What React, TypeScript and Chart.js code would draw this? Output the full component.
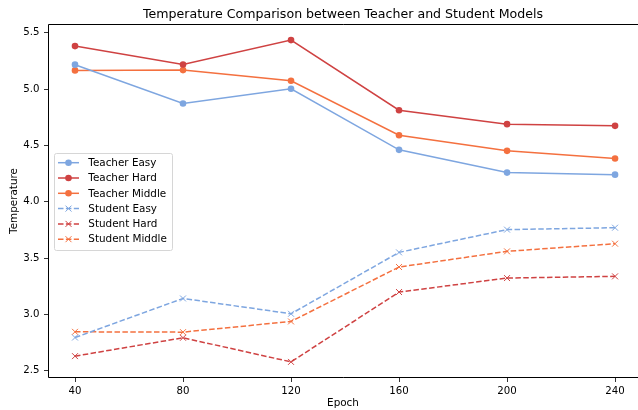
import React, { useEffect, useRef } from "react";
import { Chart, registerables } from "chart.js";

Chart.register(...registerables);

const epochs = [40, 80, 120, 160, 200, 240];
const teacherEasy = [5.216, 4.872, 5.002, 4.46, 4.258, 4.24];
const teacherHard = [5.381, 5.218, 5.434, 4.812, 4.688, 4.673];
const teacherMiddle = [5.165, 5.168, 5.073, 4.59, 4.451, 4.383];
const studentEasy = [2.794, 3.141, 3.005, 3.55, 3.752, 3.769];
const studentHard = [2.629, 2.792, 2.578, 3.198, 3.322, 3.337];
const studentMiddle = [2.845, 2.842, 2.937, 3.42, 3.559, 3.627];
const yTicks = [2.5, 3.0, 3.5, 4.0, 4.5, 5.0, 5.5];

const C_EASY = "#7EA6E0";
const C_HARD = "#CF4242";
const C_MID = "#F4703F";
const FONT = "'DejaVu Sans', sans-serif";

const toXY = (vals: number[]) => vals.map((v, i) => ({ x: epochs[i], y: v }));

const seriesDefs = [
  { label: "Teacher Easy", data: teacherEasy, color: C_EASY, student: false },
  { label: "Teacher Hard", data: teacherHard, color: C_HARD, student: false },
  { label: "Teacher Middle", data: teacherMiddle, color: C_MID, student: false },
  { label: "Student Easy", data: studentEasy, color: C_EASY, student: true },
  { label: "Student Hard", data: studentHard, color: C_HARD, student: true },
  { label: "Student Middle", data: studentMiddle, color: C_MID, student: true },
];

const DASH = [5.5, 2.4];

const framePlugin = {
  id: "frame",
  afterDatasetsDraw(chart: any) {
    const { ctx, chartArea } = chart;
    const l = Math.round(chartArea.left) + 0.5;
    const t = Math.round(chartArea.top) + 0.5;
    const b = Math.round(chartArea.bottom) - 0.5;
    const r = chart.width + 2;
    ctx.save();
    ctx.strokeStyle = "#000";
    ctx.lineWidth = 1;
    ctx.beginPath();
    ctx.moveTo(r, t);
    ctx.lineTo(l, t);
    ctx.lineTo(l, b);
    ctx.lineTo(r, b);
    ctx.stroke();
    ctx.restore();
  },
};

const legendPlugin = {
  id: "innerLegend",
  afterDraw(chart: any) {
    const { ctx } = chart;
    const x0 = 54;
    const y0 = 153;
    const w = 118;
    const h = 97;
    ctx.save();
    ctx.fillStyle = "rgba(255,255,255,0.8)";
    ctx.strokeStyle = "#d6d6d6";
    ctx.lineWidth = 1;
    ctx.beginPath();
    const r = 2;
    const X = x0 + 0.5;
    const Y = y0 + 0.5;
    ctx.moveTo(X + r, Y);
    ctx.arcTo(X + w, Y, X + w, Y + h, r);
    ctx.arcTo(X + w, Y + h, X, Y + h, r);
    ctx.arcTo(X, Y + h, X, Y, r);
    ctx.arcTo(X, Y, X + w, Y, r);
    ctx.closePath();
    ctx.fill();
    ctx.stroke();
    ctx.font = "10.4px " + FONT;
    ctx.textBaseline = "middle";
    seriesDefs.forEach((s, i) => {
      const cy = 162.7 + i * 15.3;
      const lx = 58;
      ctx.strokeStyle = s.color;
      ctx.lineWidth = 1.5;
      ctx.setLineDash(s.student ? DASH : []);
      ctx.beginPath();
      ctx.moveTo(lx, cy);
      ctx.lineTo(lx + 21, cy);
      ctx.stroke();
      ctx.setLineDash([]);
      const mx = lx + 10.5;
      if (s.student) {
        const d = 3;
        ctx.beginPath();
        ctx.moveTo(mx - d, cy - d);
        ctx.lineTo(mx + d, cy + d);
        ctx.moveTo(mx - d, cy + d);
        ctx.lineTo(mx + d, cy - d);
        ctx.lineWidth = 1;
        ctx.stroke();
      } else {
        ctx.fillStyle = s.color;
        ctx.beginPath();
        ctx.arc(mx, cy, 3.3, 0, Math.PI * 2);
        ctx.fill();
      }
      ctx.fillStyle = "#000";
      ctx.textAlign = "left";
      ctx.fillText(s.label, 88.3, cy + 0.5);
    });
    ctx.restore();
  },
};

export default function App() {
  const ref = useRef<HTMLCanvasElement | null>(null);
  useEffect(() => {
    if (!ref.current) return;
    const chart = new Chart(ref.current, {
      type: "line",
      data: {
        datasets: seriesDefs.map((s) => ({
          label: s.label,
          data: toXY(s.data),
          borderColor: s.color,
          backgroundColor: s.color,
          borderWidth: 1.5,
          borderDash: s.student ? DASH : [],
          pointStyle: s.student ? "crossRot" : "circle",
          pointRadius: s.student ? 4.2 : 3.3,
          pointBorderWidth: s.student ? 1 : 0,
          pointBackgroundColor: s.color,
          pointBorderColor: s.color,
          tension: 0,
          fill: false,
          clip: false,
        })),
      },
      options: {
        animation: false,
        responsive: false,
        maintainAspectRatio: false,
        layout: { autoPadding: false, padding: { left: 0, right: 0, top: 0, bottom: 0 } },
        plugins: {
          legend: { display: false },
          tooltip: { enabled: false },
          title: {
            display: true,
            text: "Temperature Comparison between Teacher and Student Models",
            fullSize: false,
            color: "#000",
            font: { family: FONT, size: 12.6, weight: "normal" },
            padding: { top: 7, bottom: 1.88 },
          },
        },
        scales: {
          x: {
            type: "linear",
            min: 30,
            max: 248.5,
            afterFit: (s: any) => {
              s.height = 32;
              s.paddingLeft = 0;
              s.paddingRight = 0;
            },
            afterBuildTicks: (s: any) => {
              s.ticks = epochs.map((v) => ({ value: v }));
            },
            ticks: {
              color: "#000",
              font: { family: FONT, size: 10.2 },
              padding: 3,
              maxRotation: 0,
              autoSkip: false,
            },
            grid: {
              display: true,
              drawOnChartArea: false,
              drawTicks: true,
              tickLength: 4,
              tickWidth: 0.8,
              tickColor: "#000",
            },
            border: { display: false },
            title: {
              display: true,
              text: "Epoch",
              color: "#000",
              font: { family: FONT, size: 10.4 },
              padding: { top: 0, bottom: 0 },
            },
          },
          y: {
            type: "linear",
            min: 2.435,
            max: 5.577,
            afterFit: (s: any) => {
              s.width = 48;
              s.paddingTop = 0;
              s.paddingBottom = 0;
            },
            afterBuildTicks: (s: any) => {
              s.ticks = yTicks.map((v) => ({ value: v }));
            },
            ticks: {
              color: "#000",
              font: { family: FONT, size: 10.2 },
              padding: 4.5,
              callback: (v: any) => Number(v).toFixed(1),
            },
            grid: {
              display: true,
              drawOnChartArea: false,
              drawTicks: true,
              tickLength: 4,
              tickWidth: 0.8,
              tickColor: "#000",
            },
            border: { display: false },
            title: {
              display: true,
              text: "Temperature",
              color: "#000",
              font: { family: FONT, size: 10.4 },
              padding: { top: 8, bottom: 0 },
            },
          },
        },
      },
      plugins: [framePlugin, legendPlugin],
    } as any);
    return () => chart.destroy();
  }, []);
  return (
    <div style={{ position: "fixed", left: 0, top: 0, width: 638, height: 410, background: "#fff" }}>
      <canvas ref={ref} width={638} height={410} style={{ width: 638, height: 410, display: "block" }} />
    </div>
  );
}
